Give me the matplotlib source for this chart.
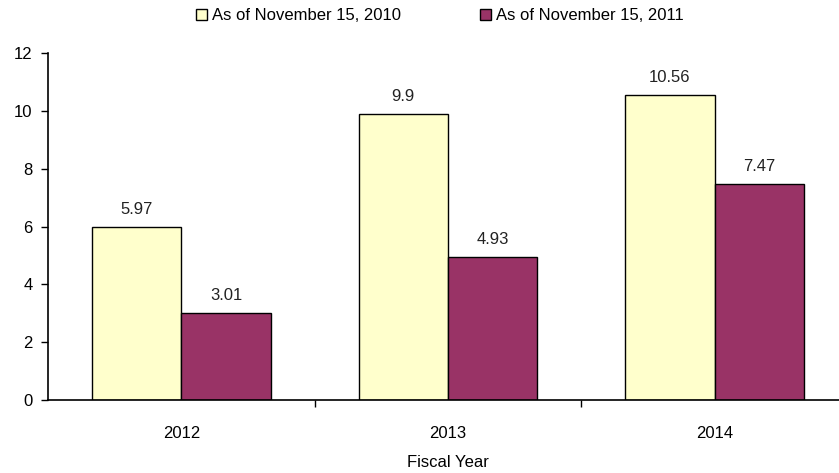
import numpy as np
import matplotlib
matplotlib.use('Agg')
import matplotlib.pyplot as plt
from matplotlib.ticker import FixedLocator, NullFormatter

# 데이터
years = ['2012', '2013', '2014']
series_2010 = [5.97, 9.9, 10.56]
series_2011 = [3.01, 4.93, 7.47]
labels_2010 = ['5.97', '9.9', '10.56']
labels_2011 = ['3.01', '4.93', '7.47']

plt.rcParams['font.family'] = ['Liberation Sans', 'DejaVu Sans']

fig = plt.figure(figsize=(8.39, 4.73), dpi=100)
ax = fig.add_axes([48 / 839, 73 / 473, 800 / 839, 347 / 473])

x = np.arange(len(years))
w = 0.335
b1 = ax.bar(x - w / 2, series_2010, w, color='#FFFFCC', edgecolor='black', linewidth=1,
            label='As of November 15, 2010')
b2 = ax.bar(x + w / 2, series_2011, w, color='#993366', edgecolor='black', linewidth=1,
            label='As of November 15, 2011')

for rect, txt in zip(b1, labels_2010):
    ax.text(rect.get_x() + rect.get_width() / 2, rect.get_height() + 0.35, txt,
            ha='center', va='bottom', fontsize=12, color='#222222')
for rect, txt in zip(b2, labels_2011):
    ax.text(rect.get_x() + rect.get_width() / 2, rect.get_height() + 0.35, txt,
            ha='center', va='bottom', fontsize=12, color='#222222')

ax.set_ylim(0, 12)
ax.set_yticks(range(0, 13, 2))
ax.set_xlim(-0.5, 2.5)
ax.set_xticks(x)
ax.set_xticklabels(years)
ax.xaxis.set_minor_locator(FixedLocator([0.5, 1.5]))
ax.xaxis.set_minor_formatter(NullFormatter())
ax.tick_params(axis='x', which='major', length=0, pad=19, labelsize=12)
ax.tick_params(axis='x', which='minor', length=5, width=1)
ax.tick_params(axis='y', length=5, width=1, labelsize=12, pad=6)

for s in ['top', 'right']:
    ax.spines[s].set_visible(False)
ax.spines['left'].set_linewidth(1.2)
ax.spines['bottom'].set_linewidth(1.2)

ax.set_xlabel('Fiscal Year', fontsize=12, labelpad=10)

ax.legend(loc='center', bbox_to_anchor=(0.49, 1.107), ncol=2,
          frameon=False, fontsize=12, handlelength=0.7, handleheight=0.7,
          handletextpad=0.3, columnspacing=4.7)

fig.savefig('out.png', dpi=100)
